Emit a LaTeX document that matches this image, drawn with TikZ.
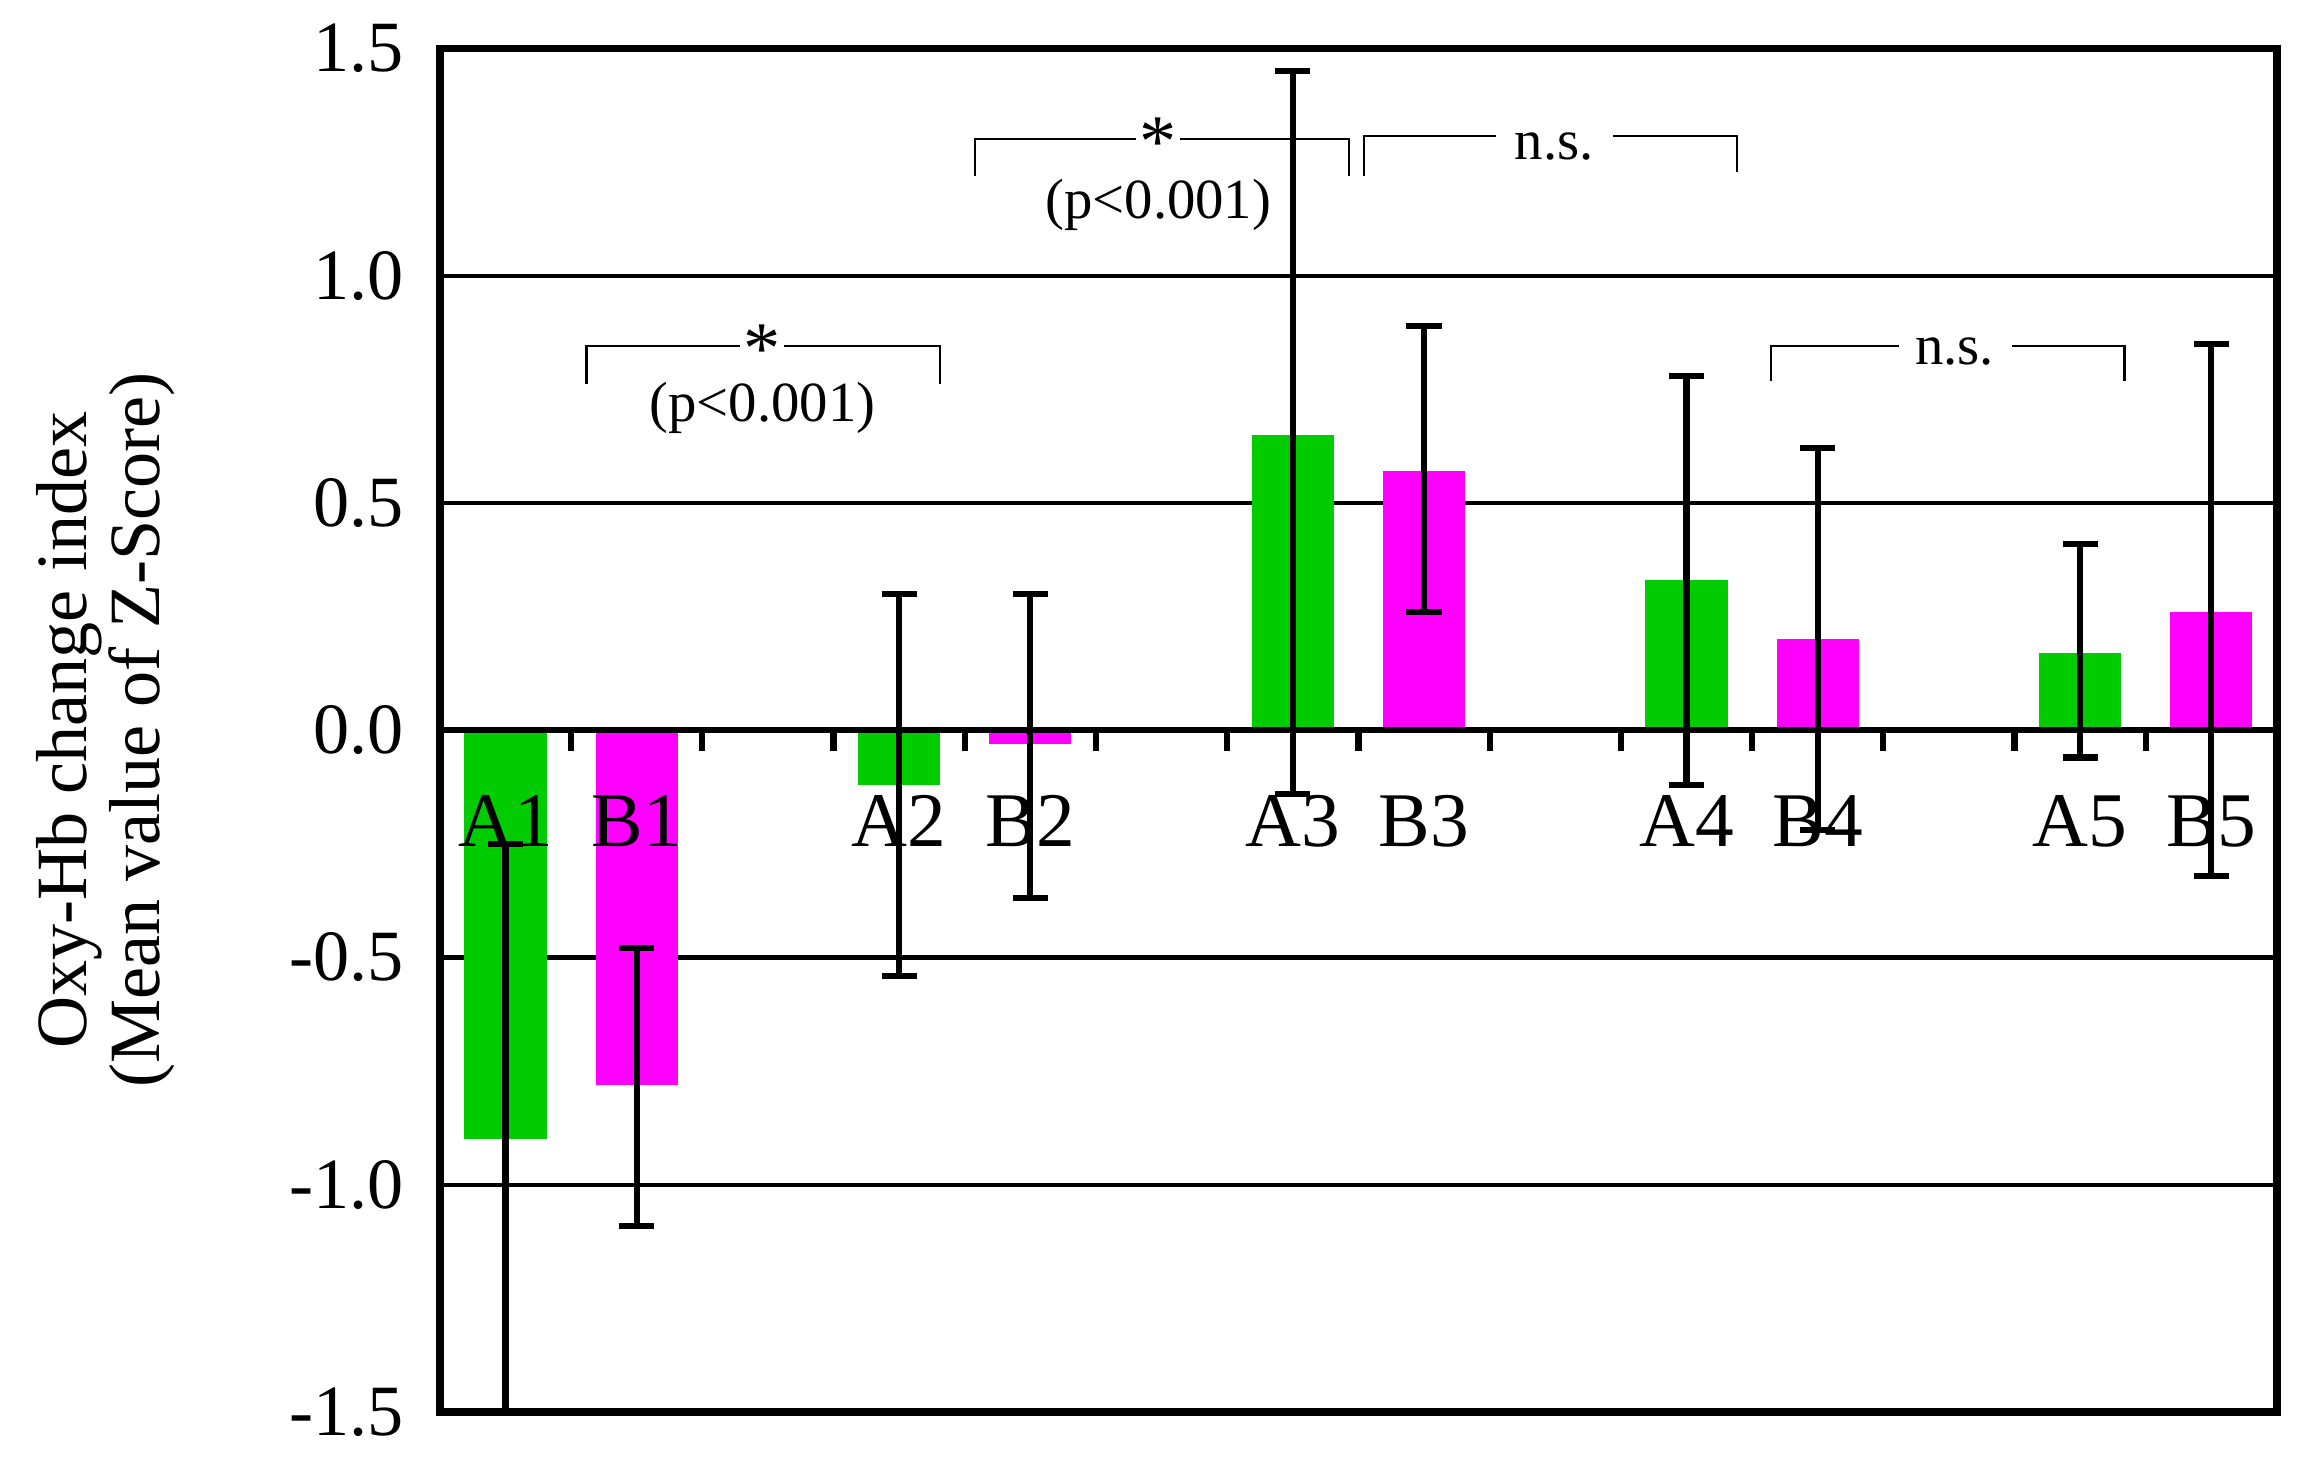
\documentclass[tikz,border=0pt]{standalone}
\usepackage{fontspec}
\setmainfont{Liberation Serif}
\definecolor{barA}{RGB}{0,204,0}
\definecolor{barB}{RGB}{255,0,255}
\begin{document}
\begin{tikzpicture}[x=0.01cm,y=-0.01cm,
  tick/.style={font=\fontsize{14}{14}\selectfont,anchor=east},
  cat/.style={font=\fontsize{15}{15}\selectfont},
  note/.style={font=\fontsize{11}{11}\selectfont},
  err/.style={line width=1.2pt}]
  \useasboundingbox (0,0) rectangle (1568,996);
  % grid and frame
  \foreach \v/\t in {1.5/1.5,1.0/1.0,0.5/0.5,0.0/0.0,-0.5/-0.5,-1.0/-1.0,-1.5/-1.5} {
    \pgfmathsetmacro{\yy}{498-310*\v}
    \node[tick] (t\t) at (288,\yy) {\t};
  }
  \foreach \v in {1.0,0.5,-0.5,-1.0} {
    \pgfmathsetmacro{\yy}{498-310*\v}
    \draw[line width=0.8pt] (300,\yy) -- (1553,\yy);
  }
  % bars: slot, value, upper, lower, colour, label
  \foreach \s/\v/\u/\l/\c/\n in {0/-0.90/-0.25/-1.5/barA/A1, 1/-0.78/-0.48/-1.09/barB/B1,
      3/-0.12/0.30/-0.54/barA/A2, 4/-0.03/0.30/-0.37/barB/B2,
      6/0.65/1.45/-0.14/barA/A3, 7/0.57/0.89/0.26/barB/B3,
      9/0.33/0.78/-0.12/barA/A4, 10/0.20/0.62/-0.22/barB/B4,
      12/0.17/0.41/-0.06/barA/A5, 13/0.26/0.85/-0.32/barB/B5} {
    \pgfmathsetmacro{\xc}{300+89.5*\s+44.75}
    \pgfmathsetmacro{\yv}{498-310*\v}
    \pgfmathsetmacro{\yu}{498-310*\u}
    \pgfmathsetmacro{\yl}{498-310*\l}
    \fill[\c] (\xc-28,498) rectangle (\xc+28,\yv);
    \node[cat] (lab\n) at (\xc,560) {\n};
    \coordinate (hi\n) at (\xc,\yu);
    \coordinate (lo\n) at (\xc,\yl);
    \draw[err] (hi\n) -- (lo\n);
    \draw[err] ([xshift=-0.12cm]hi\n) -- ([xshift=0.12cm]hi\n);
    \draw[err] ([xshift=-0.12cm]lo\n) -- ([xshift=0.12cm]lo\n);
  }
  % zero line with ticks
  \draw[line width=1.2pt] (300,498) -- (1553,498);
  \foreach \s in {1,...,13} {
    \draw[line width=1.2pt] (300+89.5*\s,498) -- (300+89.5*\s,512);
  }
  \draw[line width=1.5pt] (300,33) rectangle (1553,963);
  % brackets
  \draw (400,262) -- (400,236) -- (505,236);
  \draw (535,236) -- (641,236) -- (641,262);
  \node[inner sep=0pt] (star1) at (520,238) {\Large *};
  \node[note] (p1) at (520,278) {(p<0.001)};
  \draw (665,120) -- (665,95) -- (775,95);
  \draw (805,95) -- (920,95) -- (920,120);
  \node[inner sep=0pt] (star2) at (790,97) {\Large *};
  \node[note] (p2) at (790,140) {(p<0.001)};
  \draw (930,120) -- (930,93) -- (1020,93);
  \draw (1100,93) -- (1185,93) -- (1185,117);
  \node[note] (ns1) at (1060,100) {n.s.};
  \draw (1208,260) -- (1208,236) -- (1295,236);
  \draw (1372,236) -- (1449,236) -- (1449,260);
  \node[note] (ns2) at (1333,240) {n.s.};
  % axis title
  \node[font=\fontsize{14}{14}\selectfont,rotate=90,align=center] (ylab) at (72,498)
    {Oxy-Hb change index\\(Mean value of Z-Score)};
\end{tikzpicture}
\end{document}
